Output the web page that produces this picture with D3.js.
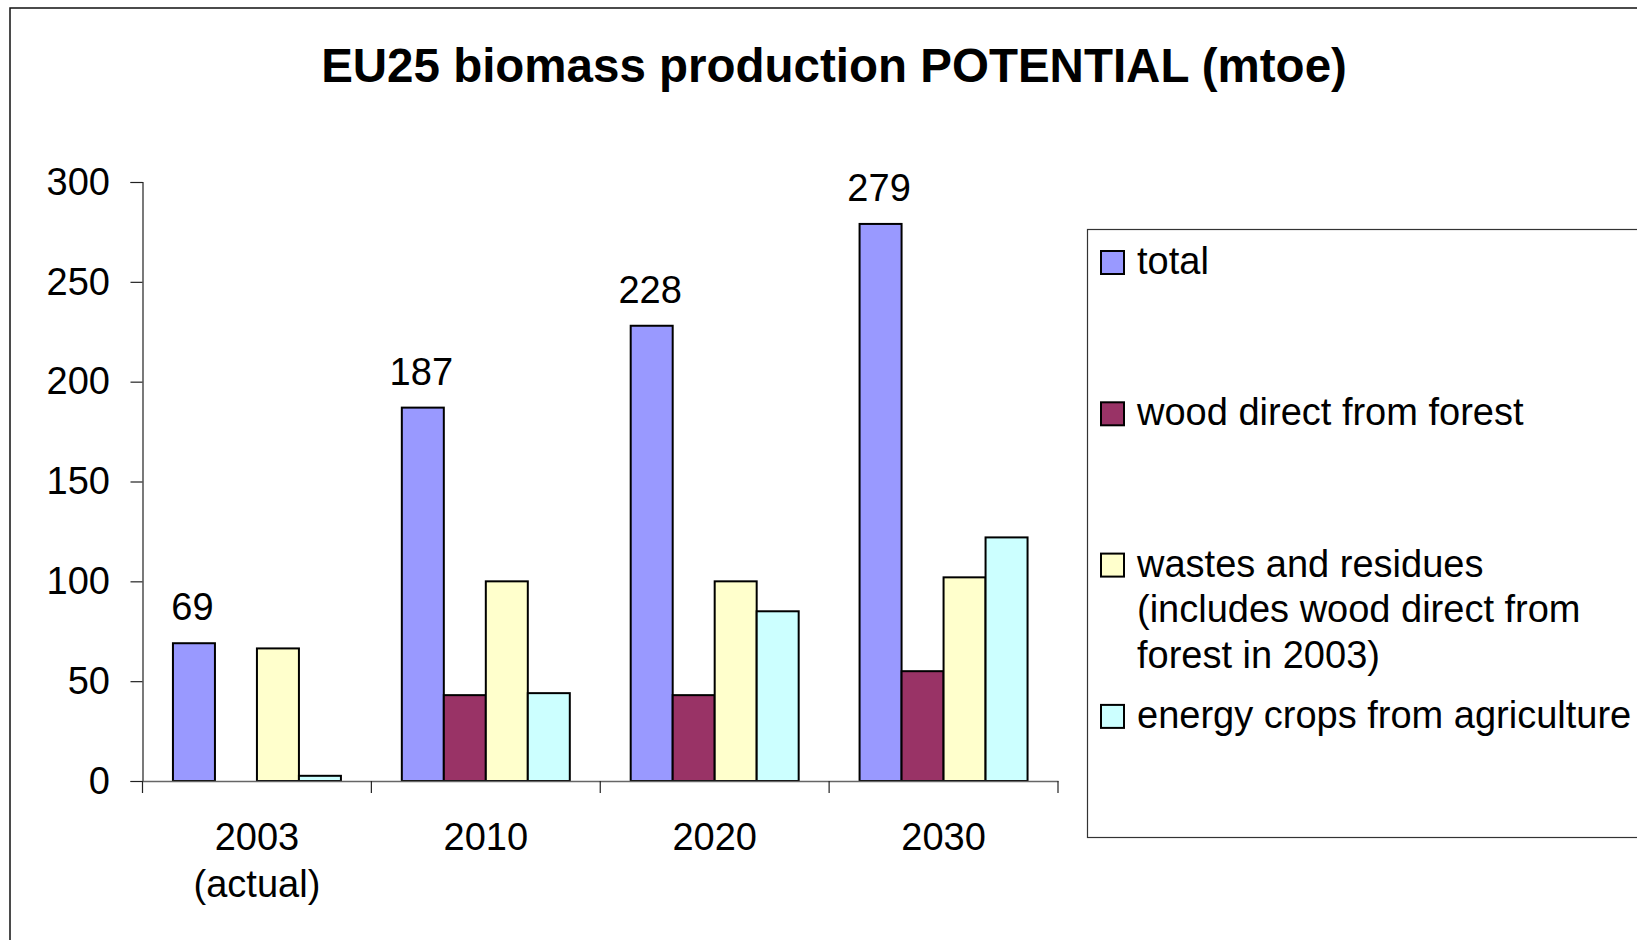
<!DOCTYPE html>
<html>
<head>
<meta charset="utf-8">
<script src="https://cdn.jsdelivr.net/npm/d3@7"></script>
<style>
  body { margin: 0; background: #fff; }
  svg { display: block; font-family: "Liberation Sans", Arial, sans-serif; }
</style>
</head>
<body>
<svg id="chart" width="1637" height="940"></svg>
<script>
// data (mtoe)
const categories = ["2003", "2010", "2020", "2030"];
const categoryNotes = ["(actual)", "", "", ""];
const seriesKeys = ["total", "wood", "wastes", "energy"];
const total = [69, 187, 228, 279];
const wood = [null, 43, 43, 55];
const wastes = [66.4, 100, 100, 102];
const energy = [2.6, 44, 85, 122];
const legendLabels = [
  ["total"],
  ["wood direct from forest"],
  ["wastes and residues", "(includes wood direct from", "forest in 2003)"],
  ["energy crops from agriculture"]
];
const yTicks = [0, 50, 100, 150, 200, 250, 300];
const colors = ["#9999ff", "#993366", "#ffffcc", "#ccffff"];

const seriesValues = { total: total, wood: wood, wastes: wastes, energy: energy };

const svg = d3.select("#chart");
const fontSize = "38px";
const plot = { left: 142.5, right: 1058, top: 182, bottom: 781 };

// outer chart frame (right/bottom edges fall outside the picture)
svg.append("rect")
  .attr("x", 10).attr("y", 8)
  .attr("width", 1700).attr("height", 1000)
  .attr("fill", "none")
  .attr("stroke", "#111")
  .attr("stroke-width", 1.5);

svg.append("text")
  .attr("x", 834)
  .attr("y", 82)
  .attr("text-anchor", "middle")
  .attr("font-size", "47.5px")
  .attr("font-weight", "bold")
  .text("EU25 biomass production POTENTIAL (mtoe)");

const x0 = d3.scaleBand()
  .domain(categories)
  .range([plot.left, plot.right])
  .padding(0);

const x1 = d3.scaleBand()
  .domain(seriesKeys)
  .range([0, x0.bandwidth()])
  .paddingInner(0)
  .paddingOuter(0.725);

const y = d3.scaleLinear()
  .domain([0, 300])
  .range([plot.bottom, plot.top]);

const color = d3.scaleOrdinal().domain(seriesKeys).range(colors);

// y axis
const yAxis = d3.axisLeft(y)
  .tickValues(yTicks)
  .tickSize(12)
  .tickPadding(20.5);

const yG = svg.append("g")
  .attr("transform", `translate(${plot.left},0)`)
  .call(yAxis);
yG.select(".domain").attr("stroke", "#222").attr("stroke-width", 1.2);
yG.selectAll(".tick line").attr("stroke", "#222").attr("stroke-width", 1.2);
yG.selectAll(".tick text")
  .attr("font-size", fontSize)
  .attr("font-family", "Liberation Sans, Arial, sans-serif")
  .attr("fill", "#000");

// bars
const rows = categories.map((c, i) => ({
  cat: c,
  vals: seriesKeys.map(k => ({ key: k, value: seriesValues[k][i] }))
}));

const groups = svg.append("g")
  .selectAll("g")
  .data(rows)
  .join("g")
  .attr("transform", d => `translate(${x0(d.cat)},0)`);

groups.selectAll("rect")
  .data(d => d.vals.filter(v => v.value != null))
  .join("rect")
  .attr("x", d => x1(d.key))
  .attr("y", d => y(d.value))
  .attr("width", x1.bandwidth())
  .attr("height", d => y(0) - y(d.value))
  .attr("fill", d => color(d.key))
  .attr("stroke", "#000")
  .attr("stroke-width", 2);

// data labels on the total series
groups.append("text")
  .attr("x", x1("total") + x1.bandwidth() / 2 - 1.5)
  .attr("y", (d, i) => y(total[i]) - 23)
  .attr("text-anchor", "middle")
  .attr("font-size", fontSize)
  .text((d, i) => total[i]);

// x axis
const xAxis = d3.axisBottom(x0)
  .tickSize(0)
  .tickPadding(42);

const xG = svg.append("g")
  .attr("transform", `translate(0,${plot.bottom})`)
  .call(xAxis);
xG.select(".domain").attr("stroke", "#666").attr("stroke-width", 1.5);
xG.selectAll(".tick text")
  .attr("font-size", fontSize)
  .attr("font-family", "Liberation Sans, Arial, sans-serif")
  .attr("fill", "#000")
  .each(function(d, i) {
    if (categoryNotes[i]) {
      d3.select(this).append("tspan")
        .attr("x", 0)
        .attr("dy", "1.24em")
        .text(categoryNotes[i]);
    }
  });

// category boundary ticks
const bounds = categories.map(c => x0(c)).concat([plot.right]);
xG.selectAll(".bound")
  .data(bounds)
  .join("line")
  .attr("class", "bound")
  .attr("x1", d => d).attr("x2", d => d)
  .attr("y1", 0).attr("y2", 12)
  .attr("stroke", "#222")
  .attr("stroke-width", 1.2);

// legend
const legend = svg.append("g");
legend.append("rect")
  .attr("x", 1087.5).attr("y", 229.5)
  .attr("width", 700).attr("height", 608)
  .attr("fill", "#fff")
  .attr("stroke", "#333")
  .attr("stroke-width", 1.2);

const legendItem = legend.selectAll(".item")
  .data(seriesKeys)
  .join("g")
  .attr("class", "item")
  .attr("transform", (d, i) => `translate(1101,${274 + i * 151.3})`);

legendItem.append("rect")
  .attr("x", 0).attr("y", -23)
  .attr("width", 23).attr("height", 23)
  .attr("fill", d => color(d))
  .attr("stroke", "#000")
  .attr("stroke-width", 2);

legendItem.append("text")
  .attr("x", 36)
  .attr("y", 0)
  .attr("font-size", fontSize)
  .each(function(d, i) {
    const t = d3.select(this);
    legendLabels[i].forEach((line, j) => {
      t.append("tspan")
        .attr("x", 36)
        .attr("dy", j === 0 ? 0 : "1.2em")
        .text(line);
    });
  });
</script>
</body>
</html>
